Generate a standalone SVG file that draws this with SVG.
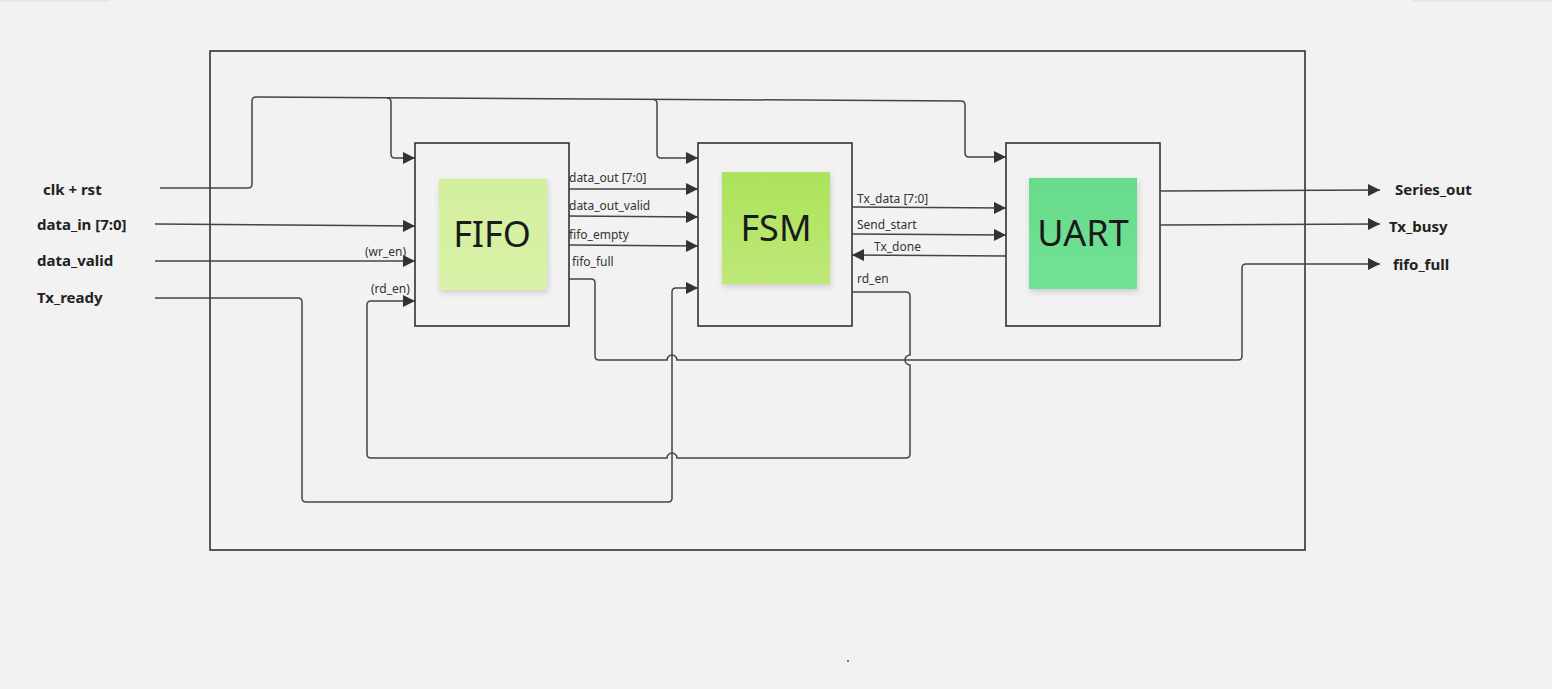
<svg xmlns="http://www.w3.org/2000/svg" width="1552" height="689" viewBox="0 0 1552 689">
<style>
.bg{fill:#f2f2f2}
.box{fill:#f2f2f2;stroke:#262626;stroke-width:1.5}
.wire{fill:none;stroke:#444;stroke-width:1.5}
.lbl{font-family:"Noto Sans","Open Sans",sans-serif;font-size:12px;fill:#333}
.io{font-family:"Noto Sans","Open Sans",sans-serif;font-size:15px;font-weight:bold;fill:#222}
.big{font-family:"Noto Sans","Open Sans",sans-serif;font-size:36px;fill:#1a1a1a;text-anchor:middle}
</style>
<defs>
<marker id="arr" viewBox="0 0 10 10" refX="10" refY="5" markerWidth="12" markerHeight="12" markerUnits="userSpaceOnUse" orient="auto">
<path d="M0,0 L10,5 L0,10 z" fill="#333"/>
</marker>
<filter id="sh" x="-20%" y="-20%" width="150%" height="150%">
<feDropShadow dx="1" dy="3" stdDeviation="3" flood-color="#000" flood-opacity="0.15"/>
</filter>
<linearGradient id="gFifo" x1="0" y1="0" x2="0" y2="1"><stop offset="0" stop-color="#d2ef9c"/><stop offset="1" stop-color="#d9f2a8"/></linearGradient>
<linearGradient id="gFsm" x1="0" y1="0" x2="0" y2="1"><stop offset="0" stop-color="#ace35a"/><stop offset="1" stop-color="#bfe878"/></linearGradient>
<linearGradient id="gUart" x1="0" y1="0" x2="0" y2="1"><stop offset="0" stop-color="#66dc8a"/><stop offset="1" stop-color="#72e196"/></linearGradient>
</defs>
<rect class="bg" x="0" y="0" width="1552" height="689"/>
<rect x="0" y="0" width="110" height="1.5" fill="#e4e4e4"/>
<rect x="1412" y="0" width="140" height="1.5" fill="#e4e4e4"/>
<rect x="847" y="660" width="2" height="2" fill="#777"/>

<rect id="outer" x="210" y="51" width="1095" height="499" fill="none" stroke="#262626" stroke-width="1.5"/>

<g id="FIFO">
<rect class="box" x="415" y="143" width="154" height="183"/>
<rect x="439" y="179" width="108" height="111" fill="url(#gFifo)" filter="url(#sh)"/>
<text class="big" x="492" y="247">FIFO</text>
</g>
<g id="FSM">
<rect class="box" x="698" y="143" width="154" height="183"/>
<rect x="722" y="172" width="108" height="112" fill="url(#gFsm)" filter="url(#sh)"/>
<text class="big" x="776" y="241">FSM</text>
</g>
<g id="UART">
<rect class="box" x="1006" y="143" width="154" height="183"/>
<rect x="1029" y="178" width="108" height="111" fill="url(#gUart)" filter="url(#sh)"/>
<text class="big" x="1083" y="246">UART</text>
</g>

<g id="connectors">
<path class="wire" marker-end="url(#arr)" d="M160,188 H248 Q252,188 252,184 V101 Q252,97 256,97 L961,101 Q965,101 965,105 V153 Q965,157 969,157 H1006"/>
<path class="wire" marker-end="url(#arr)" d="M387,98 Q391,98 391,102 V154 Q391,158 395,158 H415"/>
<path class="wire" marker-end="url(#arr)" d="M653,99.5 Q657,99.5 657,103.5 V154 Q657,158 661,158 H698"/>
<path class="wire" marker-end="url(#arr)" d="M155,224 L415,226"/>
<path class="wire" marker-end="url(#arr)" d="M155,261 H415"/>
<path class="wire" marker-end="url(#arr)" d="M155,298 H298 Q302,298 302,302 V498 Q302,502 306,502 H668 Q672,502 672,498 V292 Q672,288 676,288 H698"/>
<path class="wire" marker-end="url(#arr)" d="M852,292 H906 Q910,292 910,296 V355 A5,5 0 0 0 910,365 V454 Q910,458 906,458 H677 A5,5 0 0 0 667,458 H371 Q367,458 367,454 V305 Q367,301 371,301 H415"/>
<path class="wire" marker-end="url(#arr)" d="M569,279 H591 Q595,279 595,283 V356 Q595,360 599,360 H667 A5,5 0 0 1 677,360 H1238 Q1242,360 1242,356 V268 Q1242,264 1246,264 H1380"/>
<path class="wire" marker-end="url(#arr)" d="M569,189 H698"/>
<path class="wire" marker-end="url(#arr)" d="M569,216 L698,217"/>
<path class="wire" marker-end="url(#arr)" d="M569,245 L698,246"/>
<path class="wire" marker-end="url(#arr)" d="M852,207 L1006,208"/>
<path class="wire" marker-end="url(#arr)" d="M852,234 L1006,235"/>
<path class="wire" marker-end="url(#arr)" d="M1006,256 L852,255"/>
<path class="wire" marker-end="url(#arr)" d="M1160,191 L1380,190"/>
<path class="wire" marker-end="url(#arr)" d="M1160,225 L1380,224"/>
</g>

<g id="labels">
<text class="lbl" x="569" y="182">data_out [7:0]</text>
<text class="lbl" x="569" y="210">data_out_valid</text>
<text class="lbl" x="569" y="239">fifo_empty</text>
<text class="lbl" x="572" y="266">fifo_full</text>
<text class="lbl" x="365" y="256">(wr_en)</text>
<text class="lbl" x="371" y="293">(rd_en)</text>
<text class="lbl" x="857" y="203">Tx_data [7:0]</text>
<text class="lbl" x="857" y="229">Send_start</text>
<text class="lbl" x="874" y="251">Tx_done</text>
<text class="lbl" x="857" y="283">rd_en</text>
<text class="io" x="43" y="195">clk + rst</text>
<text class="io" x="37" y="230">data_in [7:0]</text>
<text class="io" x="37" y="266">data_valid</text>
<text class="io" x="37" y="303">Tx_ready</text>
<text class="io" x="1395" y="195">Series_out</text>
<text class="io" x="1389" y="232">Tx_busy</text>
<text class="io" x="1393" y="270">fifo_full</text>
</g>
</svg>
